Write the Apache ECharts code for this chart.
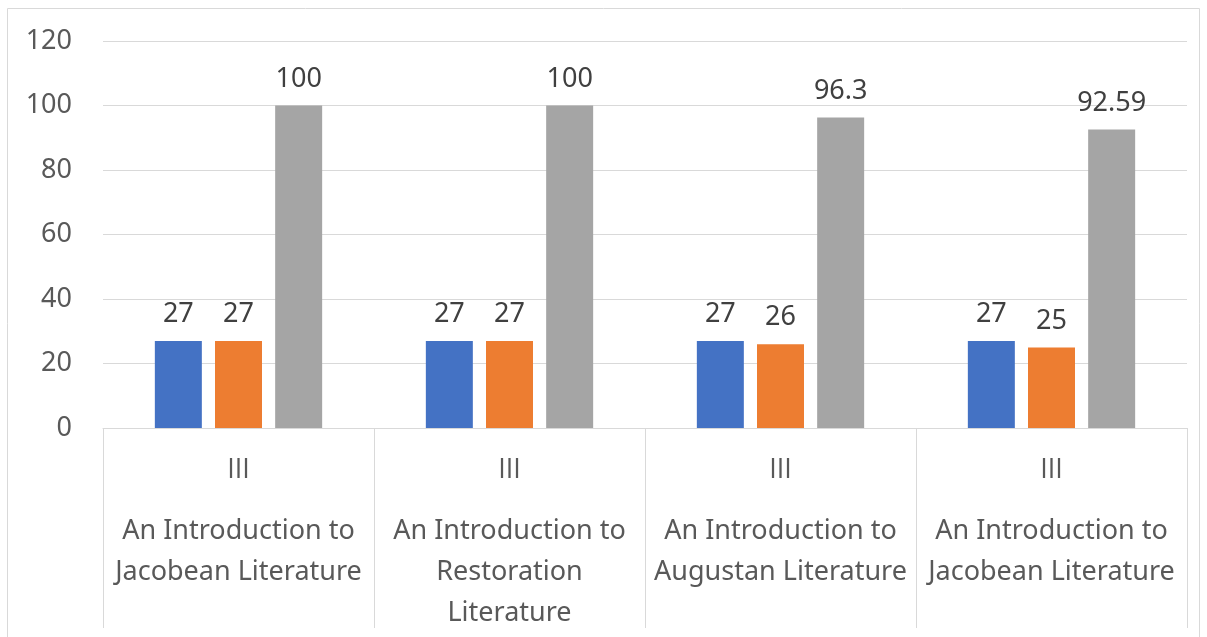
<!DOCTYPE html>
<html>
<head>
<meta charset="utf-8">
<script src="https://cdn.jsdelivr.net/npm/echarts@6/dist/echarts.min.js"></script>
<style>
html,body{margin:0;padding:0;background:#fff;}
#c{width:1207px;height:637px;}
</style>
</head>
<body>
<div id="c"></div>
<script>
const levels = ["III", "III", "III", "III"];
const courses = [
  "An Introduction to\nJacobean Literature",
  "An Introduction to\nRestoration\nLiterature",
  "An Introduction to\nAugustan Literature",
  "An Introduction to\nJacobean Literature"
];
const series1 = [27, 27, 27, 27];
const series2 = [27, 27, 26, 25];
const series3 = [100, 100, 96.3, 92.59];
const yTicks = [0, 20, 40, 60, 80, 100, 120];

const categories = courses.map((c, i) => i + "");
const chart = echarts.init(document.getElementById('c'));
const FONT = "'Noto Sans', sans-serif";
const lbl = {show: true, position: 'top', distance: 13, color: '#404040', fontSize: 27, fontFamily: FONT};
chart.setOption({
  animation: false,
  textStyle: {fontFamily: FONT},
  graphic: [{
    type: 'rect', shape: {x: 7.5, y: 8.5, width: 1192, height: 640},
    style: {fill: 'none', stroke: '#d9d9d9', lineWidth: 1}, silent: true
  }],
  grid: {left: 103, right: 20, top: 41, bottom: 209},
  xAxis: {
    type: 'category',
    data: categories,
    axisLine: {show: true, lineStyle: {color: '#d9d9d9', width: 1}},
    axisTick: {show: true, length: 200, lineStyle: {color: '#d9d9d9', width: 1}},
    axisLabel: {
      margin: 2,
      interval: 0,
      fontFamily: FONT,
      fontSize: 27,
      color: '#595959',
      formatter: function (v) {
        const i = +v;
        const lines = courses[i].split("\n").map(s => '{b|' + s + '}').join("\n");
        return '{a|' + levels[i] + '}\n' + lines;
      },
      rich: {
        a: {fontSize: 27, lineHeight: 81, color: '#595959', fontFamily: "'Open Sans', sans-serif"},
        b: {fontSize: 27, lineHeight: 41, color: '#595959', fontFamily: FONT}
      }
    }
  },
  yAxis: {
    type: 'value',
    min: yTicks[0], max: yTicks[yTicks.length - 1], interval: 20,
    axisLine: {show: false},
    axisTick: {show: false},
    splitLine: {lineStyle: {color: '#d9d9d9', width: 1}},
    axisLabel: {margin: 31, color: '#595959', fontSize: 27, fontFamily: FONT}
  },
  series: [
    {type: 'bar', data: series1, itemStyle: {color: '#4472C4'}, barWidth: 47, barGap: '28%', label: lbl},
    {type: 'bar', data: series2, itemStyle: {color: '#ED7D31'}, barWidth: 47, barGap: '28%', label: lbl},
    {type: 'bar', data: series3, itemStyle: {color: '#A5A5A5'}, barWidth: 47, barGap: '28%', label: lbl}
  ]
});
</script>
</body>
</html>
